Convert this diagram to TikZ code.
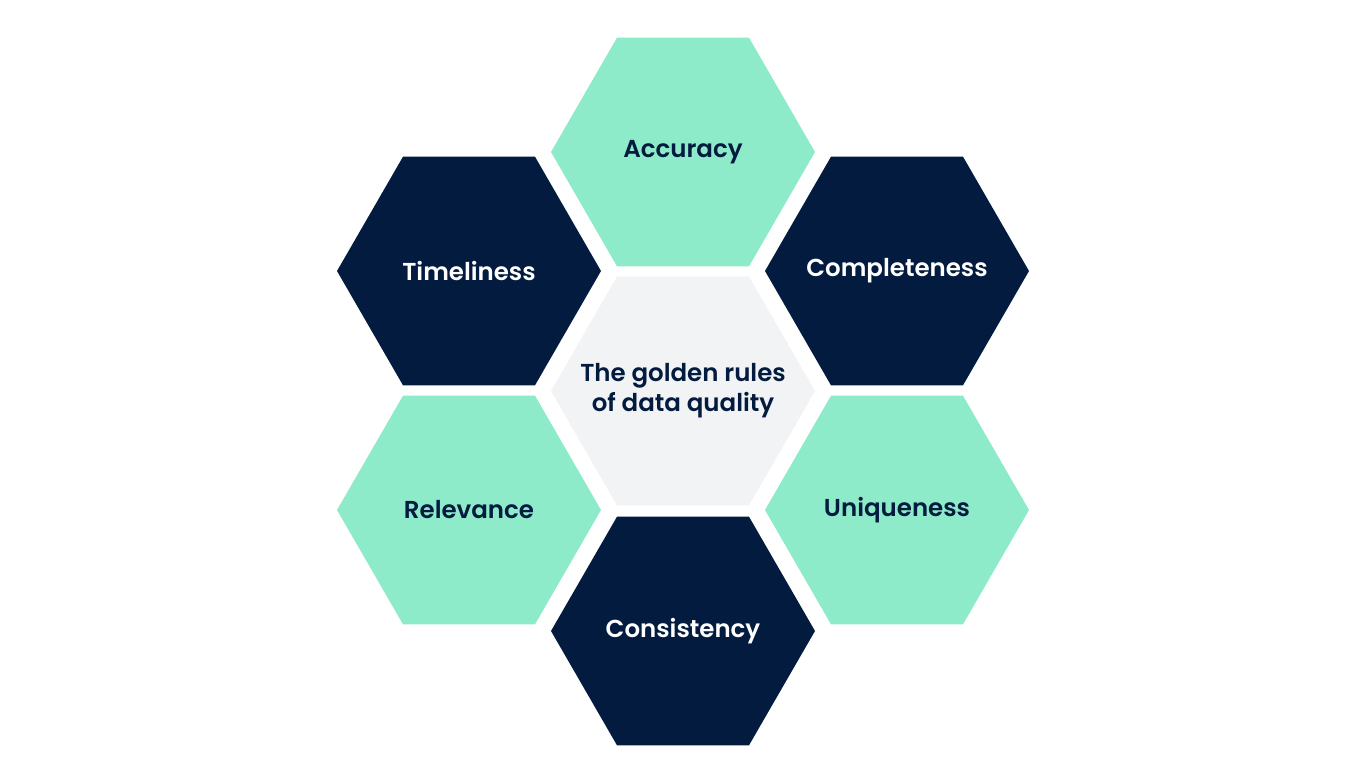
\documentclass[tikz,border=0pt]{standalone}
\usepackage{fontspec}
\setmainfont{Poppins}[BoldFont={Poppins SemiBold}]
\usetikzlibrary{shapes.geometric}
\definecolor{mint}{HTML}{8EEBC9}
\definecolor{navy}{HTML}{021B3F}
\definecolor{pale}{HTML}{F1F3F5}
\tikzset{
  hex/.style={regular polygon, regular polygon sides=6, minimum size=264pt, inner sep=0pt, draw=none},
  hexmint/.style={hex, fill=mint},
  hexnavy/.style={hex, fill=navy},
  hexpale/.style={hex, fill=pale},
  lbl/.style={font=\bfseries\fontsize{24.5}{30}\selectfont, align=center, inner sep=0pt},
  lbldark/.style={lbl, text=navy},
  lbllight/.style={lbl, text=white}
}
\begin{document}
\begin{tikzpicture}[x=1pt,y=-1pt]
\useasboundingbox[fill=white] (0,0) rectangle (1366,784);
\node[hexmint] (acc) at (683,152) {};
\node[hexnavy] (tim) at (469,271) {};
\node[hexnavy] (com) at (897,271) {};
\node[hexpale] (ctr) at (683,391) {};
\node[hexmint] (rel) at (469,510) {};
\node[hexmint] (uni) at (897,510) {};
\node[hexnavy] (con) at (683,631) {};
\node[lbldark] (accl) at (acc.center) {Accuracy};
\node[lbllight] (timl) at (tim.center) {Timeliness};
\node[lbllight] (coml) at (com.center) {Completeness};
\node[lbldark] (ctrl) at (ctr.center) {The golden rules\\of data quality};
\node[lbldark] (rell) at (rel.center) {Relevance};
\node[lbldark] (unil) at (uni.center) {Uniqueness};
\node[lbllight] (conl) at (con.center) {Consistency};
\end{tikzpicture}
\end{document}
